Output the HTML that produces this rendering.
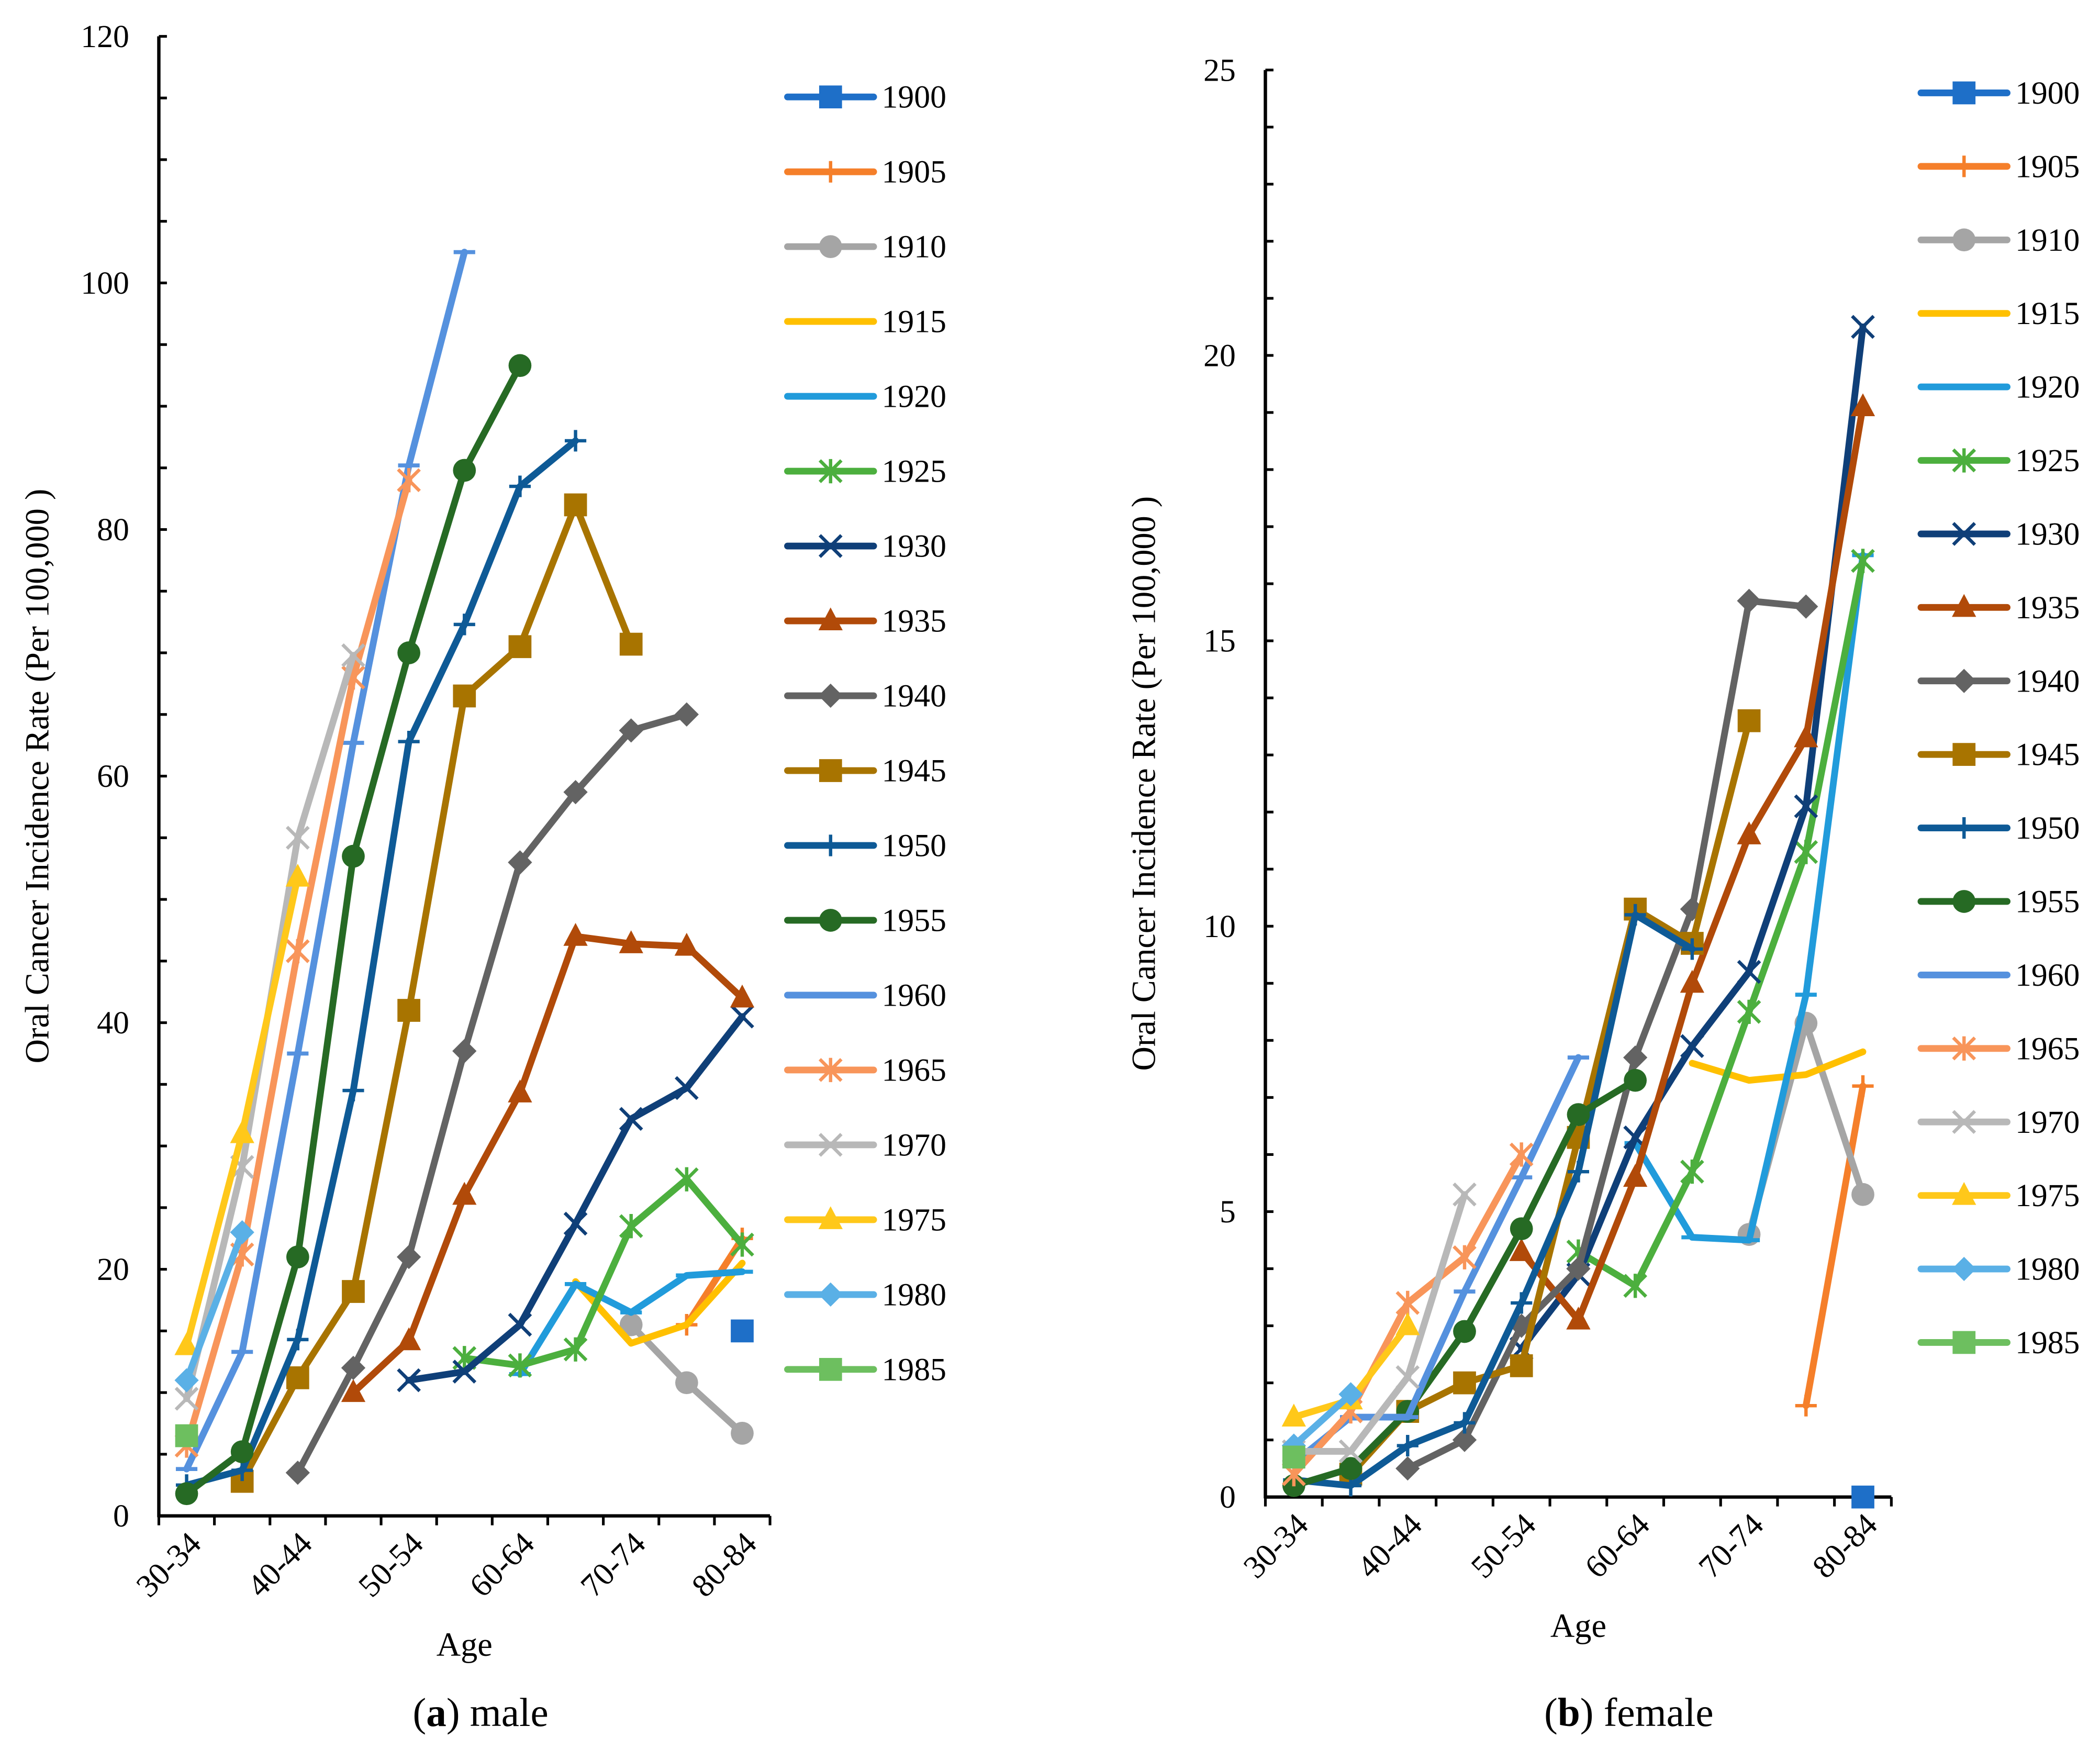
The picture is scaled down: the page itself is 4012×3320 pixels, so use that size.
<!DOCTYPE html>
<html><head><meta charset="utf-8"><style>
html,body{margin:0;padding:0;background:#fff;}
svg{display:block;font-family:"Liberation Serif",serif;}
</style></head><body>
<svg id="fig" width="4012" height="3320" viewBox="0 0 1560 1291" preserveAspectRatio="none" xmlns="http://www.w3.org/2000/svg"></svg>
<script>
const categories = ["30-34","35-39","40-44","45-49","50-54","55-59","60-64","65-69","70-74","75-79","80-84"];
const cohorts = ["1900","1905","1910","1915","1920","1925","1930","1935","1940","1945","1950","1955","1960","1965","1970","1975","1980","1985"];
const maleYTicks = [0,20,40,60,80,100,120];
const femaleYTicks = [0,5,10,15,20,25];
const N = null;
const male1900 = [N,N,N,N,N,N,N,N,N,N,15];
const male1905 = [N,N,N,N,N,N,N,N,N,15.5,22.5];
const male1910 = [N,N,N,N,N,N,N,N,15.5,10.8,6.7];
const male1915 = [N,N,N,N,N,N,N,19,14,15.5,20.5];
const male1920 = [N,N,N,N,N,N,11.5,18.8,16.5,19.5,19.8];
const male1925 = [N,N,N,N,N,12.8,12.2,13.5,23.5,27.3,22];
const male1930 = [N,N,N,N,11,11.7,15.5,23.7,32.2,34.7,40.5];
const male1935 = [N,N,N,10,14.2,26,34.3,47,46.4,46.2,42];
const male1940 = [N,N,3.5,12,21,37.7,53,58.7,63.7,65,N];
const male1945 = [N,2.8,11.2,18.2,41,66.5,70.5,82,70.7,N,N];
const male1950 = [2.5,3.7,14.3,34.5,62.8,72.3,83.5,87.2,N,N,N];
const male1955 = [1.8,5.2,21,53.5,70,84.8,93.3,N,N,N,N];
const male1960 = [3.8,13.3,37.5,62.7,85.2,102.5,N,N,N,N,N];
const male1965 = [5.7,21.2,45.8,68,84,N,N,N,N,N,N];
const male1970 = [9.5,28.3,55,69.8,N,N,N,N,N,N,N];
const male1975 = [13.8,31,51.8,N,N,N,N,N,N,N,N];
const male1980 = [11,23,N,N,N,N,N,N,N,N,N];
const male1985 = [6.5,N,N,N,N,N,N,N,N,N,N];
const female1900 = [N,N,N,N,N,N,N,N,N,N,0];
const female1905 = [N,N,N,N,N,N,N,N,N,1.6,7.2];
const female1910 = [N,N,N,N,N,N,N,N,4.6,8.3,5.3];
const female1915 = [N,N,N,N,N,N,N,7.6,7.3,7.4,7.8];
const female1920 = [N,N,N,N,N,N,6.2,4.55,4.5,8.8,16.5];
const female1925 = [N,N,N,N,N,4.3,3.7,5.7,8.5,11.3,16.4];
const female1930 = [N,N,N,N,2.6,3.9,6.3,7.9,9.2,12.1,20.5];
const female1935 = [N,N,N,N,4.3,3.1,5.6,9.0,11.6,13.3,19.1];
const female1940 = [N,N,0.5,1.0,3.0,4.0,7.7,10.3,15.7,15.6,N];
const female1945 = [N,0.4,1.5,2.0,2.3,6.3,10.3,9.7,13.6,N,N];
const female1950 = [0.3,0.2,0.9,1.3,3.4,5.7,10.2,9.6,N,N,N];
const female1955 = [0.2,0.5,1.5,2.9,4.7,6.7,7.3,N,N,N,N];
const female1960 = [0.6,1.4,1.4,3.6,5.6,7.7,N,N,N,N,N];
const female1965 = [0.4,1.5,3.4,4.2,6.0,N,N,N,N,N,N];
const female1970 = [0.8,0.8,2.1,5.3,N,N,N,N,N,N,N];
const female1975 = [1.4,1.7,3.0,N,N,N,N,N,N,N,N];
const female1980 = [0.9,1.8,N,N,N,N,N,N,N,N,N];
const female1985 = [0.7,N,N,N,N,N,N,N,N,N,N];

const maleSeries = [male1900,male1905,male1910,male1915,male1920,male1925,male1930,male1935,male1940,male1945,male1950,male1955,male1960,male1965,male1970,male1975,male1980,male1985];
const femaleSeries = [female1900,female1905,female1910,female1915,female1920,female1925,female1930,female1935,female1940,female1945,female1950,female1955,female1960,female1965,female1970,female1975,female1980,female1985];
const colors = ["#1E6FC8","#F57F2A","#A5A5A5","#FFC000","#219BDB","#4CAF3E","#0F3F78","#B14A09","#636363","#A87400","#0E5A96","#266A24","#5591DE","#F8955A","#B8B8B8","#FFC81A","#5AB0E6","#6DBF5F"];
const markers = ["square","plus","circle","none","dash","star","x","triangle","diamond","square","plus","circle","dash","star","x","triangle","diamond","square"];

const NS="http://www.w3.org/2000/svg";
const svg=document.getElementById('fig');
function mk(tag,attrs,parent){const e=document.createElementNS(NS,tag);for(const k in attrs)e.setAttribute(k,attrs[k]);(parent||svg).appendChild(e);return e;}

function drawMarker(g,type,x,y,c){
  let e;
  if(type==="square"){e=mk('rect',{x:x-8.5,y:y-8.5,width:17,height:17,fill:c},g);}
  else if(type==="circle"){e=mk('circle',{cx:x,cy:y,r:8.5,fill:c},g);}
  else if(type==="triangle"){e=mk('polygon',{points:`${x},${y-10} ${x+9},${y+7} ${x-9},${y+7}`,fill:c},g);}
  else if(type==="diamond"){e=mk('polygon',{points:`${x},${y-9} ${x+9},${y} ${x},${y+9} ${x-9},${y}`,fill:c},g);}
  else if(type==="plus"){e=mk('path',{d:`M${x-8},${y}H${x+8}M${x},${y-8}V${y+8}`,stroke:c,'stroke-width':2.5,fill:'none'},g);}
  else if(type==="dash"){e=mk('path',{d:`M${x-8},${y}H${x+8}`,stroke:c,'stroke-width':3,fill:'none'},g);}
  else if(type==="x"){e=mk('path',{d:`M${x-8},${y-8}L${x+8},${y+8}M${x+8},${y-8}L${x-8},${y+8}`,stroke:c,'stroke-width':2.5,fill:'none'},g);}
  else if(type==="star"){e=mk('path',{d:`M${x-8},${y-8}L${x+8},${y+8}M${x+8},${y-8}L${x-8},${y+8}M${x},${y-9}V${y+9}`,stroke:c,'stroke-width':2.5,fill:'none'},g);}
  else return;
  
  
}

function chart(cfg){
  const {left,right,top,bottom,ymax,yTicks,minorStep,series,yTitle,legendX,legendY0,legendStep,caption,captionX,bold,prefix}=cfg;
  const g=mk('g',{});
  
  
  const bw=(right-left)/categories.length;
  const xs=i=>left+bw*(i+0.5);
  const ys=v=>bottom-(v/ymax)*(bottom-top);
  const ya=mk('line',{x1:left,y1:top,x2:left,y2:bottom+1,stroke:'#000','stroke-width':2.5},g);
  
  const xa=mk('line',{x1:left-1,y1:bottom,x2:right,y2:bottom,stroke:'#000','stroke-width':2.5},g);
  
  for(let v=0;v<=ymax+1e-9;v+=minorStep){
    const t=mk('line',{x1:left,y1:ys(v),x2:left+6,y2:ys(v),stroke:'#000','stroke-width':2},g);
    
  }
  yTicks.forEach(v=>{
    const t=mk('text',{x:left-22,y:ys(v)+8,'text-anchor':'end','font-size':24},g);
    t.textContent=v;
    
  });
  for(let i=0;i<=categories.length;i++){
    const x=left+bw*i;
    const t=mk('line',{x1:x,y1:bottom,x2:x,y2:bottom+7,stroke:'#000','stroke-width':2},g);
    
  }
  categories.forEach((c,i)=>{
    if(i%2) return;
    const x=xs(i)+12,y=bottom+22;
    const t=mk('text',{x:x,y:y,'text-anchor':'end','font-size':24,transform:`rotate(-45 ${x} ${y})`},g);
    t.textContent=c;
    
  });
  const xt=mk('text',{x:(left+right)/2,y:bottom+104,'text-anchor':'middle','font-size':25},g);
  xt.textContent='Age';
  const yx=left-82,yy=(top+bottom)/2;
  const yt=mk('text',{x:yx,y:yy,'text-anchor':'middle','font-size':25,transform:`rotate(-90 ${yx} ${yy})`},g);
  yt.textContent=yTitle;
  series.forEach((arr,s)=>{
    const sg=mk('g',{},g);
    
    
    let d='',pen=false;
    arr.forEach((v,i)=>{
      if(v===null){pen=false;return;}
      d+=(pen?'L':'M')+xs(i)+','+ys(v);pen=true;
    });
    if(d){
      const p=mk('path',{d:d,stroke:colors[s],'stroke-width':5,fill:'none','stroke-linejoin':'round','stroke-linecap':'round'},sg);
      
    }
    arr.forEach((v,i)=>{ if(v!==null) drawMarker(sg,markers[s],xs(i),ys(v),colors[s]); });
  });
  const lg=mk('g',{},g);
  
  
  cohorts.forEach((c,s)=>{
    const y=legendY0+legendStep*s;
    const eg=mk('g',{},lg);
    
    
    mk('line',{x1:legendX,y1:y,x2:legendX+64,y2:y,stroke:colors[s],'stroke-width':5,'stroke-linecap':'round'},eg);
    drawMarker(eg,markers[s],legendX+32,y,colors[s]);
    const t=mk('text',{x:legendX+70,y:y+8,'font-size':24},eg);
    t.textContent=c;
  });
  const cap=mk('text',{x:captionX,y:1282,'text-anchor':'middle','font-size':30},g);
  
  cap.innerHTML='(<tspan font-weight="bold">'+bold+'</tspan>) '+caption;
}

chart({prefix:'male',left:118,right:572,top:27,bottom:1126,ymax:120,yTicks:maleYTicks,minorStep:5,series:maleSeries,
  yTitle:'Oral Cancer Incidence Rate (Per 100,000 )',legendX:585,legendY0:72,legendStep:55.6,caption:'male',captionX:357,bold:'a'});
chart({prefix:'female',left:940,right:1405,top:52,bottom:1112,ymax:25,yTicks:femaleYTicks,minorStep:1,series:femaleSeries,
  yTitle:'Oral Cancer Incidence Rate (Per 100,000 )',legendX:1427,legendY0:69,legendStep:54.6,caption:'female',captionX:1210,bold:'b'});
</script>
</body></html>
